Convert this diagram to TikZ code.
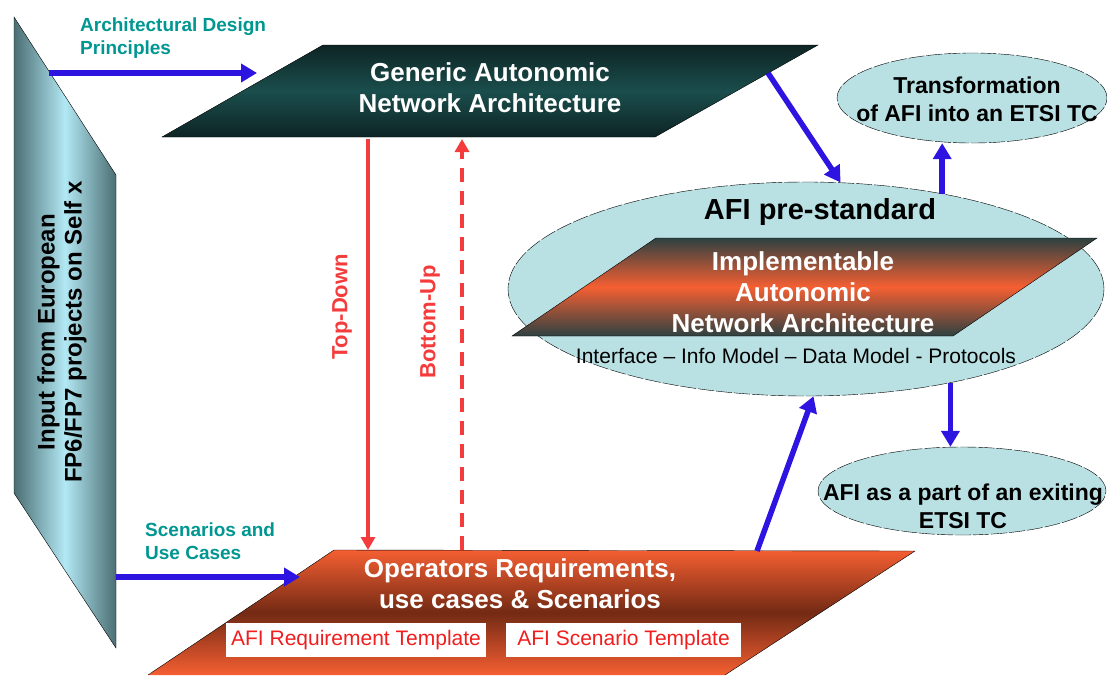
\documentclass[tikz,border=0pt]{standalone}
\usepackage{fontspec}
\setmainfont{Liberation Sans}
\usepackage{tikz}
\usetikzlibrary{arrows.meta,shapes.geometric}
\definecolor{afiblue}{RGB}{45,20,225}
\definecolor{afired}{RGB}{245,60,60}
\definecolor{afitmpl}{RGB}{240,30,30}
\definecolor{afiteal}{RGB}{0,150,145}
\definecolor{afiorange}{RGB}{245,95,50}
\definecolor{afibrown}{RGB}{115,42,20}
\definecolor{afidark}{RGB}{14,36,36}
\definecolor{afimid}{RGB}{26,78,76}
\definecolor{afislate}{RGB}{45,65,65}
\definecolor{aficyan}{RGB}{185,225,228}
\definecolor{panelcyan}{RGB}{178,232,244}
\definecolor{paneldark}{RGB}{75,110,115}
\newcommand{\fs}[2]{\fontsize{#1}{#2}\selectfont}

\begin{document}
\begin{tikzpicture}[x=1pt,y=-1pt,
  blue arrow/.style={afiblue,line width=5.5pt,-{Triangle[length=16pt,width=18pt]}},
  red arrow/.style={afired,line width=4.5pt,-{Triangle[length=13pt,width=14pt]}},
  big white/.style={text=white,font=\bfseries\fs{26}{31},align=center,inner sep=0pt},
  black text/.style={font=\bfseries\fs{23}{28},align=center,inner sep=0pt},
  teal text/.style={text=afiteal,font=\bfseries\fs{19}{23},align=left,anchor=west,inner sep=0pt},
  red label/.style={text=afired,font=\bfseries\fs{22}{26},rotate=90,inner sep=0pt},
  oval/.style={ellipse,draw=black,fill=aficyan,inner sep=0pt,dash pattern=on 16pt off 2pt},
  template/.style={fill=white,text=afitmpl,font=\fs{21}{25},minimum height=34pt,inner sep=0pt}]
\useasboundingbox (0,0) rectangle (1107,675);

% input panel on the left
\shade[left color=paneldark,right color=paneldark,middle color=panelcyan,draw=black,thin]
  (14,17) -- (116,175) -- (116,648) -- (14,493) -- cycle;
\node[font=\bfseries\fs{24}{27},align=center,rotate=90,inner sep=0pt] (L) at (62,332) {Input from European\\FP6/FP7 projects on Self x};

% generic architecture
\shade[top color=afidark,bottom color=afidark,middle color=afimid,draw=black,thin]
  (162,137) -- (323,45) -- (818,45) -- (655,137) -- cycle;
\node[big white] (G) at (490,88) {Generic Autonomic\\Network Architecture};

% AFI pre-standard
\node[oval,minimum width=596pt,minimum height=214pt] (E) at (806,289) {};
\shade[top color=afislate,bottom color=afislate,middle color=afiorange,draw=black,thin]
  (512,336) -- (656,238) -- (1097,238) -- (953,336) -- cycle;
\node[font=\bfseries\fs{29}{34},inner sep=0pt] (P) at (820,212) {AFI pre-standard};
\node[big white] (I) at (803,292) {Implementable\\Autonomic\\Network Architecture};
\node[font=\fs{21}{25},inner sep=0pt] (M) at (796,356) {Interface – Info Model – Data Model - Protocols};

% ETSI ovals
\node[oval,minimum width=270pt,minimum height=90pt] (T) at (972,98) {};
\node[black text] (Tt) at (977,99) {Transformation\\of AFI into an ETSI TC};
\node[oval,minimum width=288pt,minimum height=88pt] (X) at (962,491) {};
\node[black text] (Xt) at (963,506) {AFI as a part of an exiting\\ETSI TC};

% operators requirements
\shade[top color=afiorange,bottom color=afiorange,middle color=afibrown]
  (148,675) -- (334,550) -- (915,551) -- (725,675) -- cycle;
\draw[thin] (148,675) -- (334,550) -- (915,551) -- (725,675);
\node[big white] (O) at (520,584) {Operators Requirements,\\use cases \& Scenarios};
\node[template,minimum width=260pt] (R) at (356,640) {AFI Requirement Template};
\node[template,minimum width=235pt] (S) at (623.5,640) {AFI Scenario Template};

% labels
\node[teal text] (AD) at (80,38) {Architectural Design\\Principles};
\node[teal text] (SU) at (145,541) {Scenarios and\\Use Cases};
\node[red label] (TD) at (342,307) {Top-Down};
\node[red label] (BU) at (430,322) {Bottom-Up};

% arrows
\coordinate (p1) at (49,73); \coordinate (a1) at (257,73);
\coordinate (p2) at (116,577); \coordinate (a2) at (300,577);
\coordinate (g1) at (768,73); \coordinate (o1) at (757,551);
\coordinate (g2) at (368,139); \coordinate (o2) at (368,550);
\coordinate (g3) at (462,139); \coordinate (o3) at (462,550);
\draw[blue arrow] (p1) -- (a1);
\draw[blue arrow] (p2) -- (a2);
\draw[blue arrow] (g1) -- (E.72);
\draw[blue arrow] (o1) -- (E.-86);
\draw[blue arrow] (E.35) -- (E.35 |- T.south);
\draw[blue arrow] (E.-33) -- (E.-33 |- X.north);
\draw[red arrow] (g2) -- (o2);
\draw[red arrow,dash pattern=on 14pt off 9pt] (o3) -- (g3);
\end{tikzpicture}
\end{document}
